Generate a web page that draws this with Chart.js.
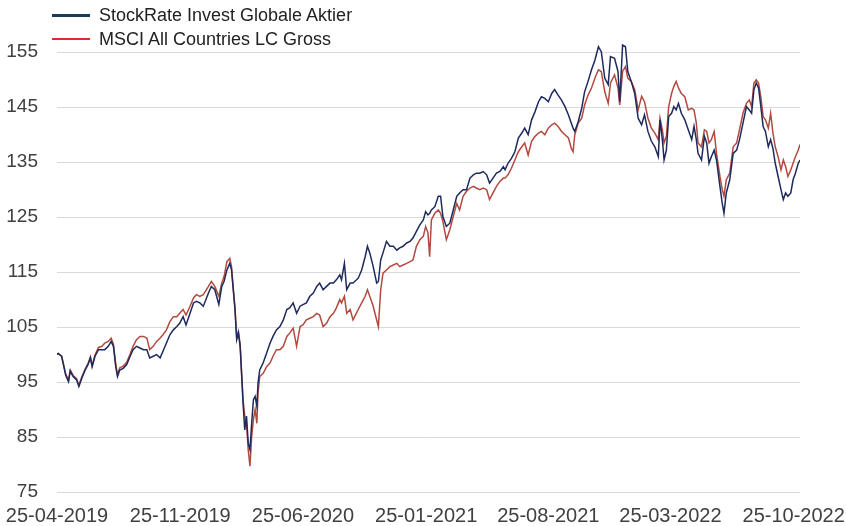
<!DOCTYPE html>
<html>
<head>
<meta charset="utf-8">
<script src="https://cdn.jsdelivr.net/npm/chart.js@4.4.1/dist/chart.umd.min.js"></script>
<style>
    html, body { margin: 0; padding: 0; background: #fff; }
    #wrap { position: relative; width: 846px; height: 526px; }
    #chart { position: absolute; left: 0; top: 0; }
    #legend { position: absolute; left: 52px; top: 3px; font-family: 'Liberation Sans', Arial, sans-serif; font-size: 18px; color: #222; }
    .row { display: flex; align-items: center; height: 24px; }
    .swatch { width: 38px; margin-right: 9px; }
</style>
</head>
<body>
<div id="wrap">
    <canvas id="chart" width="846" height="526"></canvas>
    <div id="legend"></div>
</div>
<script>
const START = '25-04-2019';
const xLabels = ['25-04-2019', '25-11-2019', '25-06-2020', '25-01-2021', '25-08-2021', '25-03-2022', '25-10-2022'];
const yTicks = [75, 85, 95, 105, 115, 125, 135, 145, 155];
const seriesNames = ['StockRate Invest Globale Aktier', 'MSCI All Countries LC Gross'];

// days since 25-04-2019
const days = [
    0, 2, 8, 11, 15, 20, 23, 28, 34, 38,
    43, 49, 54, 58, 61, 66, 72, 78, 83, 89,
    94, 98, 102, 105, 109, 115, 121, 127, 132, 138,
    144, 150, 156, 161, 167, 173, 179, 184, 190, 196,
    202, 208, 213, 219, 224, 231, 237, 242, 248, 254,
    263, 268, 274, 281, 286, 290, 295, 300, 303, 306,
    309, 312, 315, 318, 321, 323, 326, 329, 332, 335,
    338, 341, 344, 347, 349, 352, 358, 364, 370, 375,
    381, 387, 393, 399, 404, 410, 416, 422, 427, 433,
    439, 445, 451, 456, 462, 468, 474, 480, 485, 491,
    494, 499, 503, 509, 514, 523, 529, 535, 539, 543,
    549, 555, 558, 562, 566, 572, 578, 584, 590, 595,
    601, 607, 613, 618, 624, 630, 636, 640, 644, 647,
    650, 656, 662, 666, 670, 676, 682, 688, 694, 699,
    705, 711, 717, 723, 728, 734, 740, 746, 751, 757,
    763, 769, 775, 778, 783, 789, 795, 801, 807, 812,
    818, 824, 830, 836, 841, 847, 853, 859, 864, 870,
    876, 882, 888, 893, 896, 899, 905, 911, 916, 922,
    928, 934, 940, 945, 951, 957, 961, 968, 974, 977,
    982, 987, 991, 997, 1003, 1009, 1015, 1020, 1026, 1032,
    1038, 1044, 1047, 1051, 1054, 1058, 1062, 1067, 1071, 1075,
    1079, 1084, 1090, 1096, 1102, 1106, 1110, 1113, 1119, 1124,
    1128, 1132, 1136, 1141, 1145, 1151, 1155, 1158, 1162, 1168,
    1174, 1180, 1185, 1191, 1197, 1202, 1206, 1210, 1214, 1218,
    1222, 1226, 1230, 1235, 1239, 1243, 1247, 1252, 1257, 1261,
    1265, 1269, 1274, 1278, 1282, 1287, 1290
];

const fund = [
    100, 100.2, 99.7, 98.2, 96.3, 95.1, 97, 96, 95.4, 94.2,
    95.7, 97.2, 98.2, 99.4, 97.8, 99.7, 100.9, 100.9, 100.9, 101.5,
    102.4, 101.5, 97.8, 96, 97.2, 97.5, 98.2, 99.7, 100.9, 101.5,
    101.2, 100.9, 100.9, 99.4, 99.7, 100, 99.4, 100.6, 102.1, 103.6,
    104.5, 105.1, 105.7, 106.9, 105.4, 107.5, 109.4, 109.7, 109.4, 108.8,
    111.2, 112.4, 111.8, 109.1, 112.4, 113.3, 115.4, 116.6, 115.4, 111.8,
    108.2, 102.7, 103.9, 101.5, 95.4, 91.2, 86.3, 88.8, 83.9, 82.7,
    87.5, 91.8, 92.4, 90.6, 94.8, 97.2, 98.5, 100.3, 102.1, 103.3,
    104.5, 105.1, 106.3, 108.2, 108.5, 109.4, 107.5, 108.8, 109.1, 109.4,
    110.6, 111.2, 112.4, 113, 111.8, 112.4, 113, 113, 113.6, 114.5,
    113.6, 116.6, 111.8, 113, 113, 113.9, 115.4, 117.8, 119.7, 118.5,
    116, 113, 113.3, 117.2, 118.5, 120.6, 119.7, 119.7, 119, 119.4,
    119.7, 120.3, 120.6, 121.2, 122.4, 123.6, 124.5, 126, 125.4, 125.7,
    126.3, 126.9, 128.8, 128.8, 125.1, 123.3, 123.9, 126.3, 128.8, 129.4,
    130, 130, 132.1, 132.7, 133, 133, 133.3, 132.7, 131.2, 132.1,
    133, 133.3, 134.2, 133.6, 134.8, 135.7, 136.9, 139.4, 140.3, 141.2,
    140, 142.7, 144.2, 146, 146.9, 146.6, 146, 147.5, 148.2, 147.2,
    146.3, 145.1, 143.6, 142.1, 141.2, 140.6, 142.4, 144.8, 147.8, 149.7,
    151.8, 153.6, 156, 155.1, 150.3, 149.1, 154.2, 153.9, 151.5, 146,
    156.3, 156, 151.5, 149.7, 147.5, 143, 141.8, 143.6, 140.6, 138.8,
    137.8, 136, 142.7, 139.1, 135.4, 137.2, 143.3, 143.9, 145.1, 144.5,
    145.7, 143.9, 142.7, 140.9, 139.1, 141.5, 139.1, 136.6, 135.4, 139.7,
    138.5, 134.8, 136, 137.2, 135.4, 130.6, 127.5, 125.7, 129.4, 131.8,
    136.6, 137.2, 139.1, 142.1, 145.1, 144.5, 143.9, 148.2, 149.4, 148.5,
    145.1, 141.5, 140.6, 137.8, 139.1, 137.5, 134.8, 132.4, 130, 128.2,
    129.4, 128.8, 129.4, 131.8, 133, 134.8, 135.4
];

const msci = [
    100, 100.2, 99.7, 98.4, 96.5, 95.3, 97.2, 96.2, 95.6, 94.4,
    95.9, 97.4, 98.4, 99.6, 98, 99.9, 101.3, 101.5, 102.1, 102.4,
    103, 101.9, 98.2, 96.4, 97.6, 97.9, 98.6, 100.1, 101.5, 102.7,
    103.3, 103.3, 103, 100.9, 101.5, 102.4, 103, 103.6, 104.5, 106,
    106.9, 106.9, 107.5, 108.2, 107.2, 108.8, 110.3, 110.9, 110.6, 110.9,
    112.4, 113.3, 112.4, 110.6, 113, 114.2, 116.9, 117.5, 116, 112.2,
    108.6, 103.1, 104.2, 101.8, 95.8, 91.8, 88.8, 87.5, 82.7, 79.7,
    85.1, 88.2, 90, 87.5, 93, 96, 96.6, 97.8, 98.5, 99.7,
    100.9, 100.9, 101.5, 103.3, 103.9, 104.8, 101.5, 105.1, 105.4, 106.3,
    106.6, 106.9, 107.5, 107.2, 105.1, 105.7, 106.9, 107.5, 108.5, 110,
    109.4, 110.6, 107.5, 108.2, 106.3, 108.2, 109.4, 110.6, 111.8, 110.6,
    108.8, 106.3, 105.1, 111.8, 114.8, 115.4, 116, 116.3, 116.6, 116,
    116.3, 116.6, 116.9, 117.2, 119.7, 120.9, 121.5, 123.3, 122.2, 117.8,
    124.5, 125.7, 126.3, 125.7, 124.2, 120.9, 122.7, 125.1, 127.5, 126.3,
    128.8, 129.7, 130.3, 130.6, 130.3, 130, 130.3, 130, 128.2, 129.4,
    130.6, 131.5, 132.1, 132.1, 132.7, 133.9, 135.4, 136.9, 137.8, 138.5,
    136.3, 138.8, 139.7, 140.3, 140.6, 140, 141.2, 141.8, 142.1, 141.5,
    140.6, 140, 139.4, 137.5, 136.9, 140, 142.1, 143, 145.4, 147.2,
    148.5, 150.3, 151.8, 151.5, 147.8, 145.7, 149.4, 150.9, 148.5, 145.4,
    151.5, 152.4, 150.3, 149.7, 148.2, 144.5, 147, 146, 143, 141.2,
    140.3, 139.1, 143, 140.9, 138.5, 139.7, 145.1, 147.5, 148.8, 149.7,
    148.5, 147.5, 146.9, 144.5, 144.8, 144.5, 142.1, 138.5, 137.8, 140.9,
    140.6, 138.5, 139.1, 140.6, 136.6, 132.4, 130, 128.8, 131.8, 133,
    137.8, 138.5, 140.9, 143.9, 145.7, 146.3, 145.1, 149.4, 150, 149.4,
    146.9, 143.3, 142.7, 141.2, 143.9, 140.3, 137.8, 136, 133.6, 135.4,
    134.2, 132.4, 133.6, 134.8, 136, 137.2, 138.2
];

const FONT = "'Liberation Sans', Arial, sans-serif";
const BLUE = '#1e2a5c', RED = '#b24a40';
const legendCols = [['#163d5c', 3], ['#e8262b', 2]];

function dayOf(s) {
    const [d, m, y] = s.split('-').map(Number);
    const [d0, m0, y0] = START.split('-').map(Number);
    return Math.round((Date.UTC(y, m - 1, d) - Date.UTC(y0, m0 - 1, d0)) / 86400000);
}
const tickDays = xLabels.map(dayOf);

const pts = (vals) => days.map((d, i) => ({ x: d, y: vals[i] }));

new Chart(document.getElementById('chart').getContext('2d'), {
    type: 'line',
    data: {
        datasets: [
            { label: seriesNames[0], data: pts(fund), borderColor: BLUE, borderWidth: 1.5, pointRadius: 0, tension: 0 },
            { label: seriesNames[1], data: pts(msci), borderColor: RED, borderWidth: 1.5, pointRadius: 0, tension: 0 }
        ]
    },
    options: {
        animation: false, responsive: false,
        layout: { padding: { top: 38.5, right: 46, left: 0, bottom: 0 } },
        plugins: { legend: { display: false }, tooltip: { enabled: false } },
        scales: {
            x: {
                type: 'linear', min: 0, max: days[days.length - 1],
                grid: { display: false }, border: { display: false },
                afterBuildTicks: (s) => { s.ticks = tickDays.map(v => ({ value: v })); },
                afterFit: (s) => { s.height = 34; s.paddingLeft = 0; s.paddingRight = 0; },
                ticks: {
                    autoSkip: false, maxRotation: 0, padding: 4, color: '#404040',
                    font: { family: FONT, size: 20 },
                    callback: (v) => xLabels[tickDays.indexOf(v)] ?? ''
                }
            },
            y: {
                min: 75, max: 157.5,
                grid: { color: '#d9d9d9', lineWidth: 1, drawTicks: false }, border: { display: false },
                afterBuildTicks: (s) => { s.ticks = yTicks.map(v => ({ value: v })); },
                afterFit: (s) => { s.width = 57; s.paddingTop = 0; s.paddingBottom = 0; },
                ticks: { padding: 19, color: '#404040', font: { family: FONT, size: 19 } }
            }
        }
    }
});

// legend as html so it can sit over the top of the plot
const legend = document.getElementById('legend');
legendCols.forEach(([c, w], i) => {
    const row = document.createElement('div');
    row.className = 'row';
    row.innerHTML = `<span class="swatch" style="border-top:${w}px solid ${c}"></span><span>${seriesNames[i]}</span>`;
    legend.appendChild(row);
});
</script>
</body>
</html>
